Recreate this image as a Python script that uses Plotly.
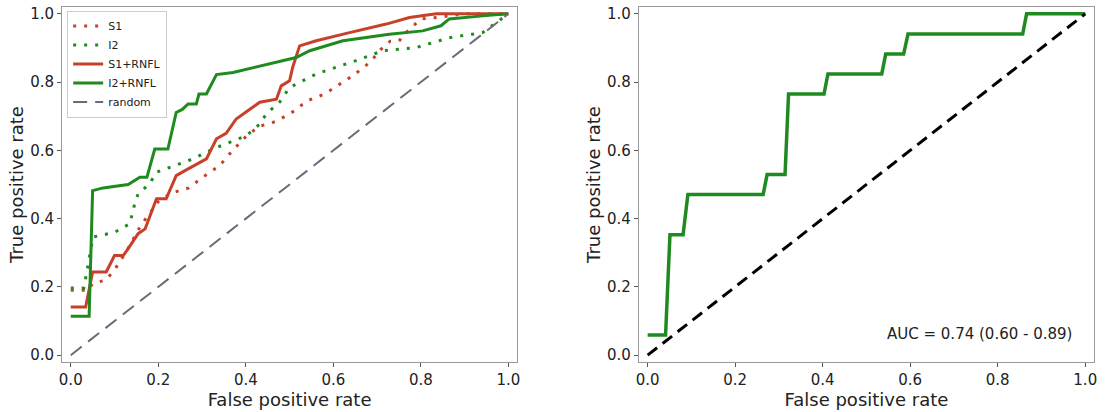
import plotly.graph_objects as go

# left panel: ROC curves for the four models
s1_fpr = [0, 0.04, 0.05, 0.08, 0.1, 0.13, 0.16, 0.2, 0.23, 0.27, 0.3, 0.34, 0.37, 0.4, 0.43,
          0.47, 0.51, 0.54, 0.58, 0.61, 0.64, 0.67, 0.69, 0.705, 0.73, 0.75, 0.77, 0.8, 0.84, 0.9, 1.0]
s1_tpr = [0.19, 0.19, 0.21, 0.22, 0.25, 0.31, 0.38, 0.45, 0.475, 0.49, 0.52, 0.555, 0.6, 0.64, 0.67,
          0.685, 0.715, 0.745, 0.765, 0.79, 0.815, 0.843, 0.867, 0.892, 0.92, 0.92, 0.95, 0.985, 0.99, 1.0, 1.0]

i2_fpr = [0, 0.03, 0.051, 0.1, 0.135, 0.146, 0.154, 0.18, 0.196, 0.279, 0.325, 0.401, 0.432,
          0.447, 0.477, 0.5, 0.561, 0.652, 0.713, 0.789, 0.865, 0.941, 0.957, 1.0]
i2_tpr = [0.197, 0.197, 0.346, 0.36, 0.385, 0.443, 0.473, 0.502, 0.536, 0.575, 0.604, 0.643, 0.677,
          0.707, 0.741, 0.784, 0.824, 0.863, 0.892, 0.901, 0.93, 0.945, 0.96, 1.0]

s1r_fpr = [0, 0.034, 0.05, 0.081, 0.1, 0.12, 0.13, 0.154, 0.17, 0.196, 0.218, 0.241, 0.26, 0.287,
           0.31, 0.333, 0.355, 0.378, 0.409, 0.432, 0.47, 0.481, 0.5, 0.507, 0.523, 0.561, 0.637,
           0.721, 0.774, 0.835, 1.0]
s1r_tpr = [0.141, 0.141, 0.244, 0.244, 0.292, 0.292, 0.31, 0.356, 0.37, 0.458, 0.458, 0.526, 0.54,
           0.56, 0.575, 0.634, 0.65, 0.692, 0.721, 0.741, 0.75, 0.789, 0.804, 0.843, 0.906, 0.921,
           0.945, 0.97, 0.989, 1.0, 1.0]

i2r_fpr = [0, 0.042, 0.05, 0.074, 0.131, 0.158, 0.174, 0.192, 0.222, 0.241, 0.255, 0.268, 0.287,
           0.293, 0.31, 0.333, 0.371, 0.424, 0.485, 0.515, 0.546, 0.622, 0.728, 0.804, 0.846, 0.865,
           0.941, 1.0]
i2r_tpr = [0.114, 0.114, 0.482, 0.49, 0.5, 0.521, 0.521, 0.604, 0.604, 0.711, 0.72, 0.736, 0.736,
           0.765, 0.765, 0.822, 0.828, 0.845, 0.863, 0.872, 0.892, 0.921, 0.94, 0.95, 0.965, 0.985,
           0.994, 1.0]

# right panel: single ROC curve
roc_fpr = [0, 0.041, 0.051, 0.081, 0.092, 0.264, 0.273, 0.314, 0.322, 0.403, 0.412, 0.535, 0.544,
           0.585, 0.595, 0.857, 0.866, 1.0]
roc_tpr = [0.059, 0.059, 0.353, 0.353, 0.471, 0.471, 0.529, 0.529, 0.765, 0.765, 0.824, 0.824,
           0.882, 0.882, 0.941, 0.941, 1.0, 1.0]

diag = [0, 1]
auc_text = "AUC = 0.74 (0.60 - 0.89)"
ticks = [0, 0.2, 0.4, 0.6, 0.8, 1.0]

RED = "#c8402a"
GREEN = "#1f8a1f"

fig = go.Figure()
fig.add_trace(go.Scatter(x=s1_fpr, y=s1_tpr, name="S1", mode="lines",
                         line=dict(color=RED, width=3, dash="3px,8px")))
fig.add_trace(go.Scatter(x=i2_fpr, y=i2_tpr, name="I2", mode="lines",
                         line=dict(color=GREEN, width=3, dash="3px,8px")))
fig.add_trace(go.Scatter(x=s1r_fpr, y=s1r_tpr, name="S1+RNFL", mode="lines",
                         line=dict(color=RED, width=3)))
fig.add_trace(go.Scatter(x=i2r_fpr, y=i2r_tpr, name="I2+RNFL", mode="lines",
                         line=dict(color=GREEN, width=3)))
fig.add_trace(go.Scatter(x=diag, y=diag, name="random", mode="lines",
                         line=dict(color="#6e6878", width=2, dash="14px,8px")))

fig.add_trace(go.Scatter(x=roc_fpr, y=roc_tpr, mode="lines", showlegend=False,
                         line=dict(color=GREEN, width=3.5), xaxis="x2", yaxis="y2"))
fig.add_trace(go.Scatter(x=diag, y=diag, mode="lines", showlegend=False,
                         line=dict(color="black", width=3, dash="12px,7px"), xaxis="x2", yaxis="y2"))

axis_style = dict(range=[-0.02, 1.02], tickvals=ticks, tickformat=".1f", showgrid=False,
                  zeroline=False, showline=True, mirror=True, linecolor="#999999", linewidth=1,
                  ticks="outside", ticklen=4, tickcolor="#555555",
                  tickfont=dict(size=15, color="#222222"))

fig.update_layout(
    width=1108, height=412,
    margin=dict(l=62, r=14, t=5, b=50),
    paper_bgcolor="white", plot_bgcolor="white",
    font=dict(family="DejaVu Sans", color="#222222"),
    xaxis=dict(domain=[0, 0.441], title=dict(text="False positive rate", font=dict(size=18), standoff=4), **axis_style),
    yaxis=dict(domain=[0, 1], title=dict(text="True positive rate", font=dict(size=18), standoff=1), **axis_style),
    xaxis2=dict(domain=[0.559, 1], anchor="y2", title=dict(text="False positive rate", font=dict(size=18), standoff=4), **axis_style),
    yaxis2=dict(domain=[0, 1], anchor="x2", title=dict(text="True positive rate", font=dict(size=18), standoff=1), **axis_style),
    legend=dict(x=0.005, y=0.99, xanchor="left", yanchor="top", bgcolor="rgba(255,255,255,0.9)",
                bordercolor="#cccccc", borderwidth=1, font=dict(size=11), tracegroupgap=0),
    annotations=[dict(text=auc_text, x=0.975, y=0.062, xref="x2", yref="y2", xanchor="right",
                      yanchor="middle", showarrow=False, font=dict(size=15, color="#222222"))],
)

# drop the browser's default body margin so the figure sits at the page corner
fig.write_html("out.html", config={"displayModeBar": False},
               post_script="document.body.style.margin='0';")
